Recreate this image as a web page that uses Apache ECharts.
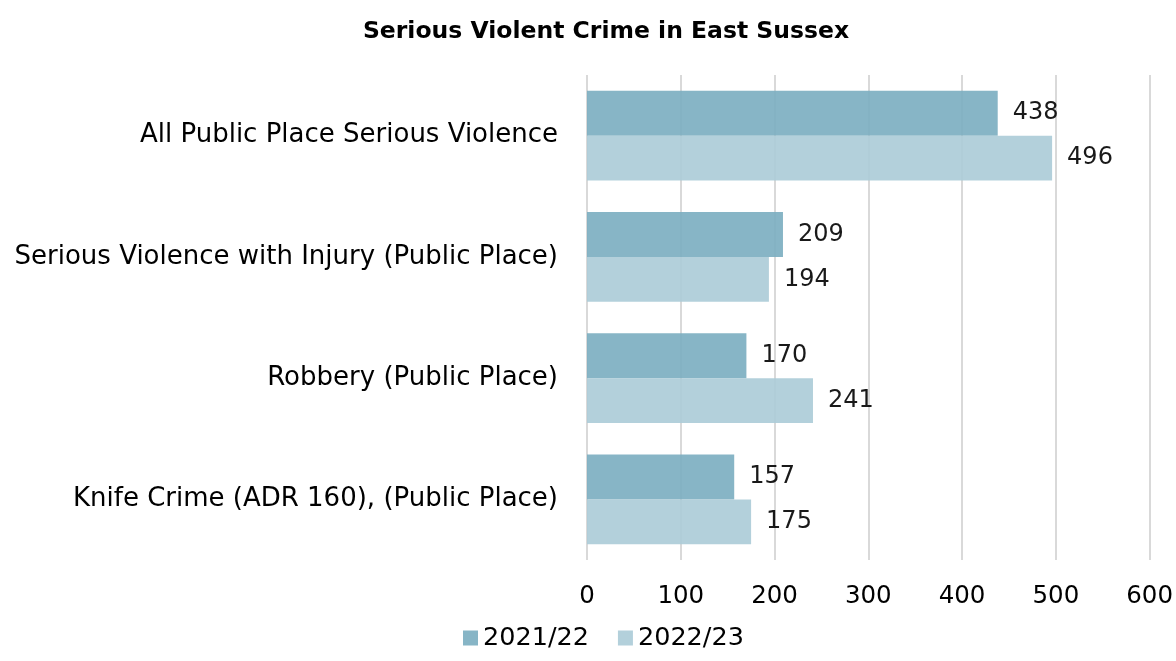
<!DOCTYPE html>
<html>
<head>
<meta charset="utf-8">
<script src="https://cdn.jsdelivr.net/npm/echarts@6/dist/echarts.min.js"></script>
<style>
  html, body { margin: 0; padding: 0; background: #fff; }
  #chart { width: 1176px; height: 661px; }
</style>
</head>
<body>
<div id="chart"></div>
<script>
var categories = [
  'All Public Place Serious Violence',
  'Serious Violence with Injury (Public Place)',
  'Robbery (Public Place)',
  'Knife Crime (ADR 160), (Public Place)'
];
var values2122 = [438, 209, 170, 157];
var values2223 = [496, 194, 241, 175];
var seriesNames = ['2021/22', '2022/23'];

var font = 'DejaVu Sans';

var makeSerie = function (name, data, color) {
  return {
    name: name,
    type: 'bar',
    data: data,
    barGap: '0%',
    barCategoryGap: '26%',
    itemStyle: { color: color, opacity: 0.9 },
    label: {
      show: true,
      position: 'right',
      distance: 15,
      color: '#000',
      fontFamily: font,
      fontSize: 24
    }
  };
};

var myChart = echarts.init(document.getElementById('chart'));
var option = {
  animation: false,
  title: {
    text: 'Serious Violent Crime in East Sussex',
    left: 601,
    top: 15,
    textAlign: 'center',
    textStyle: { fontFamily: font, fontWeight: 'bold', fontSize: 23.5, color: '#000' }
  },
  legend: {
    bottom: 5,
    left: 458,
    itemWidth: 15,
    itemHeight: 15,
    itemGap: 29,
    icon: 'rect',
    textStyle: { fontFamily: font, fontSize: 25.5, color: '#000', padding: [0, 0, 0, 0] },
    data: seriesNames
  },
  grid: { left: 587, right: 25, top: 75, bottom: 101 },
  xAxis: {
    type: 'value',
    min: 0,
    max: 600,
    interval: 100,
    axisLine: { show: false },
    axisTick: { show: false },
    splitLine: { lineStyle: { color: '#d9d9d9', width: 2 } },
    axisLabel: { fontFamily: font, fontSize: 24.5, color: '#000', margin: 24 }
  },
  yAxis: {
    type: 'category',
    inverse: true,
    data: categories,
    axisLine: { show: false },
    axisTick: { show: false },
    axisLabel: { fontFamily: font, fontSize: 26, color: '#000', margin: 29 }
  },
  series: [
    makeSerie(seriesNames[0], values2122, '#7aadc0'),
    makeSerie(seriesNames[1], values2223, '#abcbd7')
  ]
};
myChart.setOption(option);
</script>
</body>
</html>
